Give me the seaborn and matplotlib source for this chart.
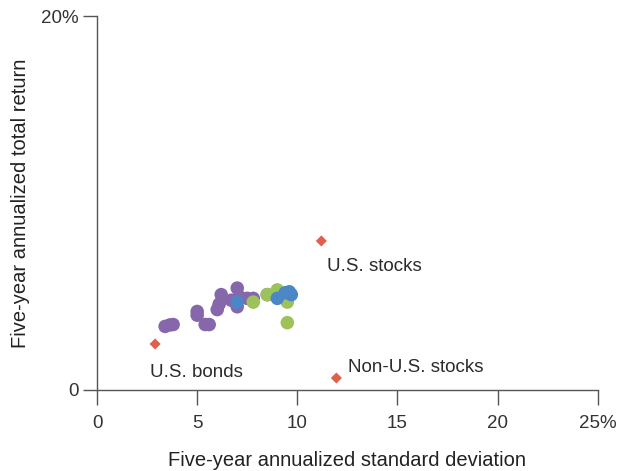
import matplotlib
matplotlib.use("Agg")
import matplotlib.pyplot as plt
import seaborn as sns
import pandas as pd

# Fund cluster data (x = std dev %, y = return %)
purple_x = [3.4, 3.64, 3.8, 5.0, 5.0, 5.4, 5.6, 6.0, 6.1, 6.2, 6.7, 7.0, 7.0, 7.1, 7.5, 7.8, 8.5]
purple_y = [3.4, 3.48, 3.5, 4.2, 4.0, 3.5, 3.5, 4.3, 4.6, 5.1, 4.8, 5.45, 4.45, 5.0, 4.9, 4.9, 5.1]
green_x = [7.8, 8.5, 9.0, 9.5, 9.5]
green_y = [4.7, 5.1, 5.35, 4.7, 3.6]
blue_x = [7.0, 9.0, 9.4, 9.6, 9.7]
blue_y = [4.7, 4.9, 5.2, 5.25, 5.1]

# Benchmarks
bench_names = ["U.S. stocks", "Non-U.S. stocks", "U.S. bonds"]
bench_x = [11.2, 11.95, 2.9]
bench_y = [7.97, 0.64, 2.46]

x_ticks = [0, 5, 10, 15, 20, 25]
x_tick_labels = ["0", "5", "10", "15", "20", "25%"]
y_ticks = [0, 20]
y_tick_labels = ["0", "20%"]

sns.set_style("white")
plt.rcParams["font.family"] = ["Liberation Sans", "DejaVu Sans"]

df = pd.DataFrame({
    "x": purple_x + green_x + blue_x,
    "y": purple_y + green_y + blue_y,
    "g": ["purple"] * len(purple_x) + ["green"] * len(green_x) + ["blue"] * len(blue_x),
})
palette = {"purple": "#8767AC", "green": "#9DC25A", "blue": "#4B86C6"}

fig = plt.figure(figsize=(6.22, 4.71), dpi=100)
ax = fig.add_axes([0.156, 0.172, 0.805, 0.794])

sns.scatterplot(data=df, x="x", y="y", hue="g", palette=palette, s=95,
                edgecolor="none", linewidth=0, legend=False, ax=ax, zorder=3)
bdf = pd.DataFrame({"x": bench_x, "y": bench_y, "name": bench_names})
sns.scatterplot(data=bdf, x="x", y="y", marker="D", color="#E0604E", s=32,
                edgecolor="none", linewidth=0, legend=False, ax=ax, zorder=4)

txtc = "#2b2b2b"
fs_ann = 13.5
ax.text(bench_x[0] + 0.3, bench_y[0] - 1.35, bench_names[0], fontsize=fs_ann, color=txtc, va="center", ha="left")
ax.text(bench_x[1] + 0.6, bench_y[1] + 0.55, bench_names[1], fontsize=fs_ann, color=txtc, va="center", ha="left")
ax.text(bench_x[2] - 0.25, bench_y[2] - 1.5, bench_names[2], fontsize=fs_ann, color=txtc, va="center", ha="left")

ax.set_xlim(0, 25)
ax.set_ylim(0, 20)
ax.set_xticks(x_ticks)
ax.set_xticklabels(x_tick_labels)
ax.set_yticks(y_ticks)
ax.set_yticklabels(y_tick_labels)
for s in ["top", "right"]:
    ax.spines[s].set_visible(False)
for s in ["left", "bottom"]:
    ax.spines[s].set_color("#555555")
    ax.spines[s].set_linewidth(1.0)
ax.tick_params(axis="both", which="both", direction="out", width=1.0,
               color="#555555", labelsize=13.5, labelcolor="#333333",
               bottom=True, left=True)
ax.tick_params(axis="y", length=10, pad=3)
ax.tick_params(axis="x", length=11, pad=7)
ax.set_xlabel("Five-year annualized standard deviation", fontsize=14.5, color="#222222", labelpad=14)
ax.set_ylabel("Five-year annualized total return", fontsize=14.5, color="#222222", labelpad=8)
ax.grid(False)

fig.savefig("out.png", dpi=100)
